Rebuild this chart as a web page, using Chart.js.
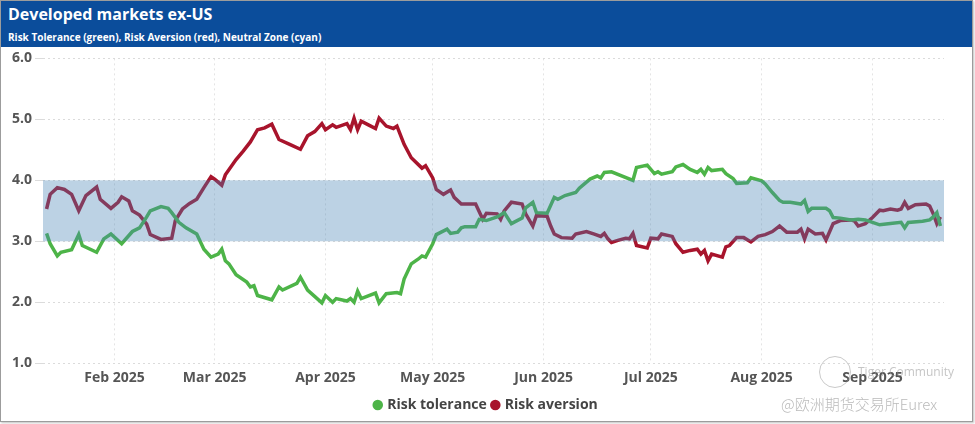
<!DOCTYPE html>
<html>
<head>
<meta charset="utf-8">
<script src="https://cdn.jsdelivr.net/npm/chart.js@4.4.1/dist/chart.umd.min.js"></script>
<style>
  html, body { margin: 0; padding: 0; background: #fff; }
  #card { position: absolute; left: 0; top: 0; width: 971px; height: 420px; border: 1px solid #9c9c9c; box-shadow: 1px 1px 2px rgba(0,0,0,0.25); background: #fff; overflow: hidden; }
  #header { position: absolute; left: 0; top: 0; width: 971px; height: 46px; background: #0b4d9b; color: #fff; font-family: "Open Sans", sans-serif; }
  #title { position: absolute; left: 7px; top: 2px; font-size: 16px; font-weight: 700; white-space: nowrap; }
  #subtitle { position: absolute; left: 7px; top: 29px; font-size: 10px; font-weight: 700; white-space: nowrap; }
  #wrap { position: absolute; left: 0; top: 46px; width: 971px; height: 375px; }
  #wm1 { position: absolute; left: 857px; top: 362px; font-family: "Open Sans", sans-serif; font-size: 12px; color: rgba(150,150,150,0.55); white-space: nowrap; }
  #wm2 { position: absolute; left: 780px; top: 392px; font-family: "Noto Sans CJK SC", sans-serif; font-weight: 300; font-size: 15px; color: rgba(140,140,140,0.6); white-space: nowrap; }
  #logo { position: absolute; left: 818px; top: 355px; width: 30px; height: 30px; border: 1.5px solid rgba(150,150,150,0.5); border-radius: 50%; }
</style>
</head>
<body>
<div id="card">
  <div id="header">
    <div id="title">Developed markets ex-US</div>
    <div id="subtitle">Risk Tolerance (green), Risk Aversion (red), Neutral Zone (cyan)</div>
  </div>
  <div id="wrap"><canvas id="chart"></canvas></div>
  <div id="logo"></div>
  <div id="wm1">Tiger Community</div>
  <div id="wm2">@欧洲期货交易所Eurex</div>
</div>
<script>
// Days counted from 2025-01-01 (day 0)
const monthTicks = [31, 59, 90, 120, 151, 181, 212, 243];
const monthLabels = ['Feb 2025', 'Mar 2025', 'Apr 2025', 'May 2025', 'Jun 2025', 'Jul 2025', 'Aug 2025', 'Sep 2025'];
const yTicks = [1, 2, 3, 4, 5, 6];
const neutralLow = 3.0;
const neutralHigh = 4.0;

const toleranceDays = [12,13,15,16,19,21,22,26,28,30,33,36,38,40,41,44,46,47,49,51,54,56,58,60,61,62,63,65,68,69,70,71,75,77,78,82,83,85,89,90,92,93,96,97,98,99,100,104,105,107,110,111,112,114,116,117,118,120,121,124,125,127,128,129,132,133,135,138,140,142,145,146,148,149,152,154,155,157,160,161,164,166,167,168,170,176,177,180,182,183,184,187,188,190,192,194,195,196,197,198,201,202,204,205,208,209,212,213,215,217,218,220,223,224,225,226,230,231,232,234,237,239,241,243,245,248,251,252,253,257,259,260,261,262];
const toleranceValues = [3.13,2.96,2.76,2.82,2.86,3.11,2.93,2.82,3.04,3.12,2.96,3.16,3.22,3.40,3.50,3.57,3.54,3.47,3.31,3.22,3.12,2.87,2.74,2.79,2.87,2.68,2.63,2.45,2.33,2.25,2.27,2.11,2.04,2.25,2.20,2.31,2.41,2.20,1.99,2.11,2.00,2.06,2.02,2.06,2.00,2.18,2.06,2.15,1.99,2.14,2.16,2.14,2.38,2.63,2.71,2.76,2.74,2.96,3.11,3.20,3.13,3.15,3.22,3.24,3.24,3.36,3.34,3.40,3.47,3.29,3.38,3.55,3.64,3.47,3.46,3.72,3.69,3.75,3.80,3.87,4.02,4.07,4.04,4.13,4.14,4.00,4.21,4.25,4.11,4.14,4.10,4.14,4.22,4.26,4.18,4.13,4.18,4.10,4.21,4.16,4.18,4.11,4.03,3.95,3.96,4.04,3.99,3.94,3.80,3.67,3.64,3.64,3.61,3.67,3.49,3.54,3.54,3.50,3.39,3.38,3.35,3.36,3.35,3.31,3.27,3.29,3.31,3.22,3.31,3.33,3.35,3.40,3.47,3.25];

const aversionDays = [12,13,15,17,19,21,23,26,27,30,32,33,35,36,38,40,41,44,47,48,50,52,54,56,58,59,61,62,65,67,69,71,73,75,77,80,83,85,87,89,90,92,93,96,97,98,99,100,102,104,105,107,109,110,112,114,117,118,120,121,123,125,126,128,129,132,134,135,138,139,140,142,145,146,148,149,152,153,154,156,159,160,163,165,167,168,169,170,172,174,175,176,177,180,181,183,184,187,188,190,192,194,195,196,197,198,201,202,203,205,207,209,211,213,215,217,219,222,223,224,225,227,229,230,232,234,237,238,239,241,243,245,246,248,250,251,252,253,255,258,259,260,261,262];
const aversionValues = [3.53,3.77,3.88,3.85,3.77,3.50,3.75,3.89,3.69,3.54,3.64,3.73,3.66,3.50,3.43,3.28,3.11,3.03,3.05,3.34,3.53,3.62,3.69,3.88,4.06,4.02,3.92,4.09,4.34,4.48,4.63,4.83,4.86,4.92,4.67,4.59,4.51,4.73,4.80,4.93,4.83,4.91,4.87,4.93,4.83,5.02,4.83,4.97,4.91,4.85,5.02,4.89,4.85,4.89,4.59,4.37,4.20,4.24,4.04,3.85,3.77,3.84,3.72,3.61,3.61,3.61,3.36,3.46,3.45,3.36,3.50,3.64,3.61,3.45,3.25,3.42,3.41,3.25,3.12,3.06,3.05,3.12,3.16,3.12,3.08,3.13,3.04,2.98,3.02,3.05,3.04,3.13,2.93,2.89,3.05,3.04,3.12,3.08,2.96,2.82,2.85,2.87,2.79,2.85,2.68,2.79,2.74,2.91,2.93,3.06,3.06,2.99,3.08,3.11,3.16,3.25,3.15,3.15,3.20,3.04,3.20,3.12,3.13,3.02,3.29,3.34,3.35,3.33,3.25,3.29,3.39,3.51,3.50,3.53,3.51,3.53,3.64,3.54,3.60,3.61,3.58,3.45,3.29,3.40];

const neutralZone = {
  id: 'neutralZone',
  afterDatasetsDraw(chart) {
    const { ctx, chartArea, scales } = chart;
    const yTop = scales.y.getPixelForValue(neutralHigh);
    const yBot = scales.y.getPixelForValue(neutralLow);
    ctx.save();
    ctx.fillStyle = 'rgba(70,130,180,0.36)';
    ctx.fillRect(chartArea.left, yTop, chartArea.right - chartArea.left, yBot - yTop);
    ctx.restore();
  }
};

// shift the legend box slightly to the right, like the original layout
const legendShift = {
  id: 'legendShift',
  afterLayout(chart) {
    if (chart.legend) { chart.legend.left += 10; chart.legend.right += 10; }
  }
};

const gridColor = 'rgba(215,215,215,0.9)';
const tickFont = { family: '"Open Sans", sans-serif', size: 14, weight: 'bold' };

new Chart(document.getElementById('chart'), {
  type: 'line',
  data: {
    datasets: [
      {
        label: 'Risk tolerance',
        data: toleranceDays.map((d, i) => ({ x: d, y: toleranceValues[i] })),
        borderColor: '#4db448',
        backgroundColor: '#4db448',
        borderWidth: 3.5,
        pointRadius: 0,
        pointStyle: 'circle',
        tension: 0
      },
      {
        label: 'Risk aversion',
        data: aversionDays.map((d, i) => ({ x: d, y: aversionValues[i] })),
        borderColor: '#a8142c',
        backgroundColor: '#a8142c',
        borderWidth: 3.5,
        pointRadius: 0,
        pointStyle: 'circle',
        tension: 0
      }
    ]
  },
  options: {
    responsive: true,
    maintainAspectRatio: false,
    animation: false,
    layout: { padding: { left: 8, right: 28, top: 11, bottom: 0 } },
    plugins: {
      legend: {
        position: 'bottom',
        labels: {
          usePointStyle: true,
          pointStyle: 'circle',
          boxWidth: 5,
          boxHeight: 5,
          padding: 6,
          color: '#444',
          font: tickFont
        }
      },
      tooltip: { enabled: false }
    },
    scales: {
      x: {
        type: 'linear',
        min: 11,
        max: 263,
        afterBuildTicks(scale) { scale.ticks = monthTicks.map(v => ({ value: v })); },
        ticks: {
          color: '#555',
          font: tickFont,
          padding: 6,
          maxRotation: 0,
          autoSkip: false,
          callback(value) { const i = monthTicks.indexOf(value); return i >= 0 ? monthLabels[i] : ''; }
        },
        grid: { color: 'rgba(225,225,225,0.9)', drawTicks: false },
        border: { display: false, dash: [2, 3] }
      },
      y: {
        min: 1,
        max: 6,
        afterBuildTicks(scale) { scale.ticks = yTicks.map(v => ({ value: v })); },
        ticks: {
          color: '#555',
          font: tickFont,
          padding: 3,
          callback(value) { return Number(value).toFixed(1); }
        },
        grid: { color: gridColor, drawTicks: true, tickLength: 8, tickColor: gridColor },
        border: { display: false, dash: [2, 3] }
      }
    }
  },
  plugins: [neutralZone, legendShift]
});
</script>
</body>
</html>
